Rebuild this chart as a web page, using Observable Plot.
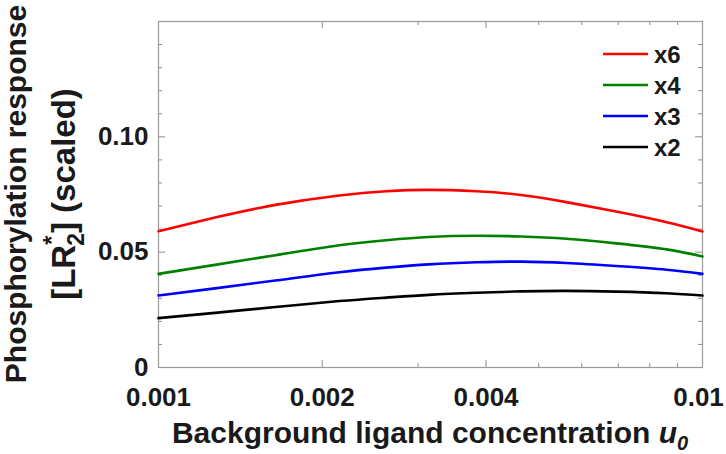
<!DOCTYPE html>
<html><head><meta charset="utf-8">
<script src="https://cdn.jsdelivr.net/npm/d3@7"></script>
<script src="https://cdn.jsdelivr.net/npm/@observablehq/plot@0.6"></script>
<style>body{margin:0;background:#fff} svg{font-family:Arial,"Liberation Sans",sans-serif}</style>
</head><body><div id="chart"></div>
<script>
// Background ligand concentration u0 (log axis)
const u0 = [0.001, 0.00127, 0.00164, 0.00215, 0.00262, 0.00314, 0.00384, 0.00464, 0.00562, 0.00694, 0.00859, 0.01];
// Phosphorylation response per series
const x6 = [0.0591, 0.0650, 0.0705, 0.0746, 0.0764, 0.0770, 0.0764, 0.0748, 0.0717, 0.0676, 0.0630, 0.0590];
const x4 = [0.0406, 0.0445, 0.0487, 0.0530, 0.0552, 0.0566, 0.0571, 0.0568, 0.0558, 0.0538, 0.0512, 0.0481];
const x3 = [0.0312, 0.0343, 0.0377, 0.0413, 0.0433, 0.0447, 0.0456, 0.0459, 0.0453, 0.0440, 0.0424, 0.0406];
const x2 = [0.0214, 0.0237, 0.0262, 0.0288, 0.0303, 0.0315, 0.0324, 0.0330, 0.0332, 0.0329, 0.0322, 0.0312];
const seriesNames = ["x6", "x4", "x3", "x2"];
const seriesValues = [x6, x4, x3, x2];
const seriesColors = ["#ff0000", "#008000", "#0000ff", "#000000"];
const xTicks = [0.001, 0.002, 0.004, 0.01];
const xTickLabels = ["0.001", "0.002", "0.004", "0.01"];
const xMinorTicks = [0.003, 0.005, 0.006, 0.007, 0.008, 0.009];
const yTicks = [0, 0.05, 0.1];
const yTickLabels = ["0", "0.05", "0.10"];
const yMinorTicks = [0.01, 0.02, 0.03, 0.04, 0.06, 0.07, 0.08, 0.09, 0.11, 0.12, 0.13, 0.14];

const data = [];
seriesNames.forEach((s, k) => u0.forEach((u, i) => data.push({series: s, u, v: seriesValues[k][i]})));

const W = 726, H = 454, mL = 158, mR = 24, mT = 21, mB = 87;
const pW = W - mL - mR, pH = H - mT - mB;
const tk = {stroke: "#8a8a8a", strokeWidth: 1};
const lblStyle = {fontSize: 26, fontWeight: "bold", fill: "#1a1a1a"};
const xFmt = d => xTickLabels[xTicks.indexOf(d)];

const plot = Plot.plot({
  width: W, height: H,
  marginLeft: mL, marginRight: mR, marginTop: mT, marginBottom: mB,
  x: {type: "log", domain: [0.001, 0.01], axis: null},
  y: {domain: [0, 0.15], axis: null},
  color: {domain: seriesNames, range: seriesColors},
  marks: [
    // inward ticks on all four sides
    Plot.tickX(xTicks, {x: d => d, insetTop: pH - 7, ...tk}),
    Plot.tickX(xMinorTicks, {x: d => d, insetTop: pH - 4, ...tk}),
    Plot.tickX(xTicks, {x: d => d, insetBottom: pH - 7, ...tk}),
    Plot.tickX(xMinorTicks, {x: d => d, insetBottom: pH - 4, ...tk}),
    Plot.tickY(yTicks, {y: d => d, insetRight: pW - 7, ...tk}),
    Plot.tickY(yMinorTicks, {y: d => d, insetRight: pW - 4, ...tk}),
    Plot.tickY(yTicks, {y: d => d, insetLeft: pW - 7, ...tk}),
    Plot.tickY(yMinorTicks, {y: d => d, insetLeft: pW - 4, ...tk}),
    Plot.frame({stroke: "#9a9a9a", strokeWidth: 1.2}),
    Plot.axisX(xTicks.slice(0, 3), {anchor: "bottom", tickSize: 0, tickPadding: 20, label: null,
      tickFormat: xFmt, ...lblStyle}),
    Plot.axisX(xTicks.slice(3), {anchor: "bottom", tickSize: 0, tickPadding: 20, label: null,
      tickFormat: xFmt, dx: -4, ...lblStyle}),
    Plot.axisY(yTicks, {anchor: "left", tickSize: 0, tickPadding: 10, label: null,
      tickFormat: d => yTickLabels[yTicks.indexOf(d)], ...lblStyle}),
    Plot.line(data, {x: "u", y: "v", z: "series", stroke: "series", strokeWidth: 2.6, curve: "natural"})
  ]
});
document.getElementById("chart").appendChild(plot);

const svg = d3.select(plot);
const ink = "#1a1a1a";
// x title
const xt = svg.append("text").attr("x", (mL + W - mR) / 2).attr("y", 443)
  .attr("text-anchor", "middle").attr("font-size", 30).attr("font-weight", "bold").attr("fill", ink);
xt.append("tspan").text("Background ligand concentration ");
xt.append("tspan").attr("font-style", "italic").text("u");
xt.append("tspan").attr("font-style", "italic").attr("font-size", 20).attr("dy", 7).text("0");

// y title (two lines)
const cy = (mT + H - mB) / 2;
svg.append("text").attr("transform", `translate(26,${cy}) rotate(-90)`)
  .attr("text-anchor", "middle").attr("font-size", 30).attr("font-weight", "bold").attr("fill", ink)
  .text("Phosphorylation response");
const yt2 = svg.append("text").attr("transform", `translate(75,${cy}) rotate(-90)`)
  .attr("text-anchor", "middle").attr("font-size", 33).attr("font-weight", "bold").attr("fill", ink);
yt2.append("tspan").text("[LR");
yt2.append("tspan").attr("font-size", 23).attr("dy", -15).text("*");
yt2.append("tspan").attr("font-size", 23).attr("dx", -10).attr("dy", 24).text("2");
yt2.append("tspan").attr("dy", -9).text("] (scaled)");

// legend
seriesNames.forEach((s, i) => {
  const y = 54 + i * 31;
  svg.append("line").attr("x1", 603).attr("x2", 648).attr("y1", y).attr("y2", y)
    .attr("stroke", seriesColors[i]).attr("stroke-width", 2.6);
  svg.append("text").attr("x", 654).attr("y", y).attr("dy", "0.36em").attr("text-anchor", "start")
    .attr("font-size", 24).attr("font-weight", "bold").attr("fill", ink).text(s);
});
</script></body></html>
